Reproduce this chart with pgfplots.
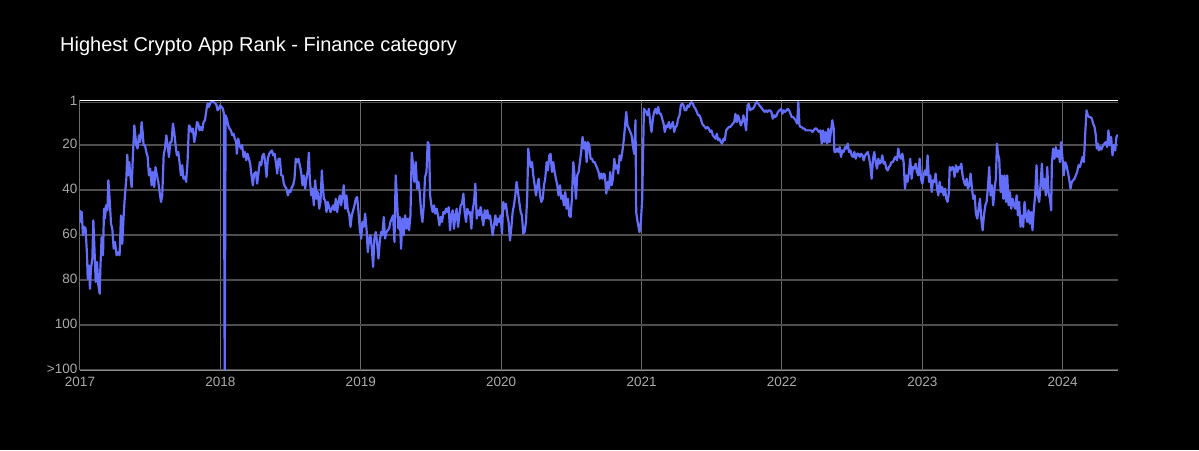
\documentclass[border=0pt]{standalone}
\usepackage{pgfplots}
\pgfplotsset{compat=1.18}
\usepackage{fontspec}
\setmainfont{Liberation Sans}
\definecolor{plotblue}{RGB}{99,110,250}
\definecolor{ticklab}{RGB}{170,170,170}
\definecolor{hgrid}{RGB}{78,78,78}
\definecolor{vgrid}{RGB}{105,105,105}
\definecolor{axln}{RGB}{140,140,140}
\begin{document}
\begin{tikzpicture}
\fill[black] (0,0) rectangle (1199pt,450pt);
\node[anchor=base west, text=white, font=\fontsize{20}{24}\selectfont, inner sep=0pt] at (60pt,398pt) {Highest Crypto App Rank - Finance category};
\begin{axis}[
  at={(80pt,80pt)}, anchor=south west,
  scale only axis, width=1038pt, height=270pt,
  xmin=2017, xmax=2024.394, ymin=0, ymax=120,
  y dir=reverse,
  axis line style={draw=none},
  major tick length=0pt,
  xtick={2017,2018,2019,2020,2021,2022,2023,2024},
  xticklabels={2017,2018,2019,2020,2021,2022,2023,2024},
  ytick={1,20,40,60,80,100,120},
  yticklabels={1,20,40,60,80,100,>100},
  tick label style={font=\fontsize{13.5}{16}\selectfont, text=ticklab, inner sep=0.5pt},
  xticklabel style={yshift=-6pt},
  yticklabel style={xshift=-2pt, yshift=1pt},
  xmajorgrids, ymajorgrids,
  x grid style={vgrid, line width=1pt},
  y grid style={hgrid, line width=1.2pt},
  clip=true,
]
\addplot[plotblue, line width=2.2pt, line join=round, mark=none] table {
2017.000 49.0
2017.007 54.2
2017.012 49.8
2017.021 60.1
2017.031 56.4
2017.040 57.2
2017.050 69.0
2017.055 79.4
2017.064 73.5
2017.071 83.9
2017.078 75.0
2017.088 70.5
2017.095 53.5
2017.102 64.6
2017.112 80.9
2017.121 72.0
2017.131 82.4
2017.140 86.1
2017.145 75.0
2017.154 60.9
2017.164 69.0
2017.171 48.3
2017.178 52.7
2017.185 46.8
2017.195 49.0
2017.202 35.7
2017.211 43.9
2017.221 55.0
2017.230 57.2
2017.240 66.1
2017.249 63.1
2017.261 69.0
2017.273 67.6
2017.282 69.0
2017.292 51.3
2017.301 63.9
2017.311 51.3
2017.320 42.4
2017.330 35.0
2017.337 24.3
2017.344 33.5
2017.351 27.6
2017.358 33.5
2017.368 38.7
2017.377 24.6
2017.387 11.3
2017.394 15.7
2017.401 20.1
2017.410 21.6
2017.420 15.7
2017.429 18.7
2017.439 9.8
2017.446 14.2
2017.453 20.1
2017.463 20.1
2017.472 23.1
2017.482 25.3
2017.491 33.5
2017.500 30.5
2017.510 37.9
2017.519 32.0
2017.529 38.7
2017.538 29.8
2017.548 33.5
2017.558 36.4
2017.567 40.9
2017.577 45.3
2017.586 42.4
2017.596 24.6
2017.605 21.6
2017.615 15.7
2017.624 20.1
2017.634 25.3
2017.643 18.7
2017.652 18.7
2017.662 10.5
2017.671 14.2
2017.681 20.1
2017.690 24.6
2017.700 23.1
2017.709 27.6
2017.719 33.5
2017.728 29.0
2017.737 35.0
2017.747 34.2
2017.756 36.4
2017.766 27.6
2017.776 11.3
2017.785 12.0
2017.795 14.2
2017.804 12.7
2017.814 18.7
2017.823 15.7
2017.833 9.8
2017.842 10.5
2017.852 13.5
2017.861 12.0
2017.871 13.5
2017.880 9.8
2017.890 9.0
2017.902 3.9
2017.909 1.6
2017.918 3.1
2017.928 1.2
2017.937 0.9
2017.947 0.9
2017.961 1.2
2017.973 2.4
2017.980 4.6
2017.989 3.9
2017.999 2.4
2018.008 3.1
2018.018 3.9
2018.025 6.1
2018.031 125
2018.037 6.8
2018.046 8.3
2018.056 11.3
2018.065 12.7
2018.075 13.5
2018.084 15.7
2018.094 15.0
2018.103 17.2
2018.113 18.7
2018.117 23.9
2018.127 17.2
2018.137 20.1
2018.146 21.6
2018.155 20.1
2018.165 25.3
2018.174 23.1
2018.184 26.8
2018.193 23.9
2018.203 26.1
2018.212 28.3
2018.222 33.5
2018.231 37.9
2018.241 32.7
2018.253 32.0
2018.262 37.2
2018.272 32.0
2018.281 27.6
2018.291 29.0
2018.300 24.6
2018.310 23.9
2018.319 27.6
2018.329 34.2
2018.338 26.1
2018.348 23.9
2018.357 23.1
2018.367 22.4
2018.376 24.6
2018.386 23.9
2018.395 27.6
2018.405 32.7
2018.414 26.1
2018.424 26.1
2018.433 33.5
2018.443 33.5
2018.452 37.2
2018.462 38.7
2018.471 39.4
2018.481 42.4
2018.490 40.1
2018.499 40.9
2018.509 38.7
2018.518 37.9
2018.528 35.0
2018.537 26.1
2018.547 27.6
2018.556 26.1
2018.566 29.0
2018.575 32.0
2018.585 37.9
2018.594 33.5
2018.604 39.4
2018.613 35.0
2018.623 31.3
2018.630 23.4
2018.637 35.0
2018.647 42.4
2018.656 39.4
2018.666 46.8
2018.675 35.7
2018.685 43.9
2018.694 40.9
2018.704 48.3
2018.713 45.3
2018.723 31.3
2018.727 36.4
2018.737 43.9
2018.746 44.6
2018.756 49.8
2018.765 45.3
2018.775 47.6
2018.784 49.8
2018.794 48.3
2018.803 46.8
2018.813 49.0
2018.822 43.9
2018.832 49.8
2018.841 45.3
2018.851 42.4
2018.860 46.8
2018.870 42.4
2018.879 37.9
2018.889 48.3
2018.898 42.4
2018.908 49.0
2018.917 50.5
2018.927 56.4
2018.936 51.3
2018.946 49.0
2018.955 46.8
2018.965 43.9
2018.974 43.1
2018.984 49.8
2018.993 57.2
2019.003 61.6
2019.012 54.2
2019.022 56.4
2019.031 50.5
2019.041 57.2
2019.050 67.6
2019.060 61.6
2019.069 60.1
2019.079 66.1
2019.088 74.2
2019.097 61.6
2019.107 58.7
2019.116 63.1
2019.126 70.5
2019.135 63.1
2019.145 58.7
2019.154 60.1
2019.164 52.0
2019.173 61.6
2019.183 58.7
2019.192 57.9
2019.202 57.2
2019.211 54.2
2019.221 52.7
2019.230 51.3
2019.240 63.1
2019.249 33.5
2019.259 45.3
2019.268 57.2
2019.278 52.0
2019.287 66.1
2019.297 52.7
2019.306 60.1
2019.316 51.3
2019.325 57.2
2019.335 52.7
2019.344 57.9
2019.354 51.3
2019.363 23.4
2019.373 29.0
2019.382 36.4
2019.392 27.6
2019.401 39.4
2019.411 36.4
2019.420 40.9
2019.430 49.8
2019.439 54.2
2019.449 46.8
2019.458 34.2
2019.468 32.0
2019.477 18.7
2019.487 20.1
2019.494 42.4
2019.503 46.8
2019.512 49.8
2019.522 46.8
2019.531 50.5
2019.541 48.3
2019.550 51.3
2019.560 55.7
2019.569 52.0
2019.579 54.2
2019.588 49.8
2019.598 50.5
2019.607 48.3
2019.617 49.8
2019.626 47.6
2019.636 57.9
2019.645 51.3
2019.655 49.0
2019.664 57.2
2019.674 51.3
2019.683 48.3
2019.693 56.4
2019.702 51.3
2019.712 46.8
2019.721 46.1
2019.731 41.6
2019.740 49.8
2019.750 54.2
2019.759 48.3
2019.769 50.5
2019.778 49.8
2019.788 57.2
2019.797 49.0
2019.807 45.3
2019.816 37.2
2019.826 52.7
2019.835 49.0
2019.845 51.3
2019.854 47.6
2019.864 52.0
2019.873 55.7
2019.883 49.0
2019.892 52.7
2019.902 49.0
2019.911 52.7
2019.921 51.3
2019.930 55.7
2019.940 60.1
2019.949 55.7
2019.959 51.3
2019.968 55.7
2019.978 52.7
2019.987 54.2
2019.996 51.3
2020.006 59.4
2020.015 45.3
2020.025 48.3
2020.034 46.1
2020.044 51.3
2020.053 54.2
2020.063 62.4
2020.072 57.2
2020.082 49.8
2020.091 46.8
2020.101 42.4
2020.110 36.4
2020.120 40.9
2020.129 45.3
2020.139 49.8
2020.148 51.3
2020.158 59.4
2020.167 58.7
2020.177 54.2
2020.186 42.4
2020.193 21.6
2020.201 26.1
2020.210 29.8
2020.220 27.6
2020.229 33.5
2020.239 37.9
2020.248 42.4
2020.258 37.9
2020.267 35.0
2020.277 42.4
2020.286 45.3
2020.296 43.9
2020.305 37.9
2020.314 35.0
2020.324 27.6
2020.333 31.3
2020.343 24.6
2020.352 23.9
2020.362 32.0
2020.371 27.6
2020.381 32.0
2020.390 35.0
2020.400 37.9
2020.409 42.4
2020.419 37.9
2020.428 43.9
2020.438 42.4
2020.447 46.8
2020.457 40.9
2020.466 48.3
2020.476 43.9
2020.485 51.3
2020.495 52.0
2020.504 43.9
2020.514 27.6
2020.523 33.5
2020.533 43.9
2020.542 33.5
2020.552 32.0
2020.561 27.6
2020.571 22.4
2020.580 16.4
2020.590 21.6
2020.599 18.7
2020.609 27.6
2020.618 18.7
2020.628 20.1
2020.637 26.1
2020.647 26.1
2020.656 27.6
2020.666 27.6
2020.675 29.0
2020.685 30.5
2020.694 32.0
2020.703 35.0
2020.713 32.7
2020.722 35.0
2020.732 32.7
2020.739 33.5
2020.749 41.6
2020.758 36.4
2020.768 39.4
2020.777 32.0
2020.787 37.9
2020.796 35.0
2020.806 26.1
2020.815 30.5
2020.825 29.0
2020.834 32.7
2020.844 24.6
2020.853 26.8
2020.863 23.1
2020.872 18.7
2020.881 12.7
2020.891 5.3
2020.900 11.3
2020.910 12.7
2020.920 14.2
2020.929 15.7
2020.938 20.1
2020.948 23.9
2020.957 9.0
2020.962 49.8
2020.972 54.2
2020.981 57.2
2020.986 58.7
2020.995 54.2
2021.005 43.9
2021.012 20.1
2021.017 3.9
2021.024 4.6
2021.033 5.3
2021.043 6.8
2021.052 3.9
2021.062 9.8
2021.071 14.2
2021.081 8.3
2021.090 5.3
2021.100 3.9
2021.109 6.1
2021.119 3.1
2021.128 6.1
2021.138 6.1
2021.147 8.3
2021.157 10.5
2021.166 14.2
2021.176 11.3
2021.185 12.0
2021.195 9.8
2021.204 12.7
2021.214 11.3
2021.223 9.8
2021.233 14.2
2021.242 12.0
2021.252 11.3
2021.261 8.3
2021.271 6.8
2021.280 2.4
2021.290 1.6
2021.299 2.4
2021.309 4.6
2021.318 4.6
2021.328 2.4
2021.337 3.1
2021.347 1.6
2021.356 0.9
2021.365 1.6
2021.375 3.1
2021.384 3.9
2021.394 5.3
2021.403 6.8
2021.413 6.8
2021.422 8.3
2021.432 10.5
2021.441 11.3
2021.451 12.0
2021.460 12.7
2021.470 12.0
2021.479 12.7
2021.489 14.2
2021.498 13.5
2021.508 15.7
2021.517 16.4
2021.527 17.2
2021.536 15.0
2021.546 17.9
2021.555 17.2
2021.565 18.7
2021.574 19.4
2021.584 17.2
2021.593 17.9
2021.603 13.5
2021.612 12.7
2021.622 12.0
2021.631 12.0
2021.641 11.3
2021.650 10.5
2021.660 9.8
2021.669 6.1
2021.679 9.8
2021.688 6.8
2021.698 9.0
2021.707 11.3
2021.717 9.8
2021.726 6.8
2021.736 9.8
2021.745 13.5
2021.755 2.4
2021.764 1.6
2021.774 4.6
2021.783 3.9
2021.793 3.9
2021.802 3.1
2021.812 1.6
2021.821 0.9
2021.831 1.6
2021.840 2.4
2021.850 3.1
2021.859 3.9
2021.868 4.6
2021.878 5.3
2021.887 4.6
2021.897 5.3
2021.906 4.6
2021.916 4.6
2021.925 5.3
2021.935 8.3
2021.944 6.8
2021.953 7.6
2021.962 6.8
2021.972 5.3
2021.981 4.6
2021.985 4.6
2021.994 3.9
2022.004 6.1
2022.013 4.6
2022.023 5.3
2022.032 4.6
2022.042 3.9
2022.051 4.6
2022.061 6.1
2022.070 7.6
2022.080 7.6
2022.089 8.3
2022.098 9.0
2022.108 10.5
2022.117 0.9
2022.125 11.3
2022.132 12.0
2022.141 12.0
2022.151 12.7
2022.160 12.7
2022.170 13.5
2022.179 13.5
2022.189 13.5
2022.198 13.5
2022.208 13.5
2022.217 14.2
2022.227 13.5
2022.236 12.7
2022.246 12.7
2022.255 13.5
2022.265 14.2
2022.274 13.5
2022.284 19.4
2022.293 13.5
2022.302 18.7
2022.312 14.2
2022.322 19.4
2022.331 12.7
2022.340 18.7
2022.350 13.5
2022.359 9.0
2022.369 12.7
2022.374 23.1
2022.383 23.1
2022.393 21.6
2022.402 23.1
2022.412 20.9
2022.421 25.3
2022.431 22.4
2022.440 23.1
2022.450 20.9
2022.459 21.6
2022.469 19.4
2022.478 23.1
2022.488 22.4
2022.497 24.6
2022.507 25.3
2022.516 23.1
2022.526 26.1
2022.535 23.9
2022.545 23.9
2022.554 25.3
2022.564 23.9
2022.573 24.6
2022.583 26.8
2022.592 24.6
2022.602 23.9
2022.611 23.1
2022.620 25.3
2022.630 29.0
2022.639 35.0
2022.649 26.1
2022.658 23.1
2022.668 27.6
2022.677 30.5
2022.687 26.1
2022.696 28.3
2022.706 27.6
2022.715 24.6
2022.725 28.3
2022.734 27.6
2022.744 30.5
2022.753 31.3
2022.763 29.8
2022.772 29.0
2022.781 27.6
2022.791 27.6
2022.800 26.1
2022.810 25.3
2022.820 26.8
2022.829 21.6
2022.839 25.3
2022.848 26.1
2022.858 23.9
2022.867 27.6
2022.877 39.4
2022.886 33.5
2022.895 36.4
2022.905 32.0
2022.914 26.1
2022.924 35.0
2022.933 29.8
2022.943 30.5
2022.953 28.3
2022.962 32.0
2022.972 33.5
2022.981 26.1
2022.991 35.0
2023.000 37.2
2023.010 33.5
2023.019 31.3
2023.029 33.5
2023.038 24.6
2023.048 36.4
2023.057 33.5
2023.067 40.9
2023.076 35.7
2023.086 36.4
2023.095 32.7
2023.105 39.4
2023.114 42.4
2023.124 36.4
2023.133 40.9
2023.142 38.7
2023.152 42.4
2023.162 39.4
2023.171 43.9
2023.180 45.3
2023.190 40.9
2023.195 29.8
2023.204 31.3
2023.214 29.8
2023.223 30.5
2023.230 34.2
2023.240 29.0
2023.249 32.0
2023.259 29.8
2023.268 30.5
2023.278 28.3
2023.287 33.5
2023.297 36.4
2023.306 37.9
2023.316 35.0
2023.325 39.4
2023.335 37.9
2023.344 32.7
2023.354 39.4
2023.363 43.9
2023.373 42.4
2023.382 50.5
2023.392 52.7
2023.401 48.3
2023.411 43.9
2023.420 52.7
2023.430 57.9
2023.439 51.3
2023.449 46.8
2023.458 45.3
2023.467 39.4
2023.477 29.8
2023.486 42.4
2023.496 37.9
2023.505 46.8
2023.515 39.4
2023.524 35.0
2023.532 19.4
2023.539 23.9
2023.548 26.1
2023.558 40.9
2023.567 33.5
2023.577 43.9
2023.586 33.5
2023.596 45.3
2023.605 33.5
2023.615 46.8
2023.624 40.9
2023.634 48.3
2023.643 43.9
2023.653 46.8
2023.662 48.3
2023.672 42.4
2023.681 51.3
2023.690 45.3
2023.700 56.4
2023.709 51.3
2023.719 56.4
2023.728 45.3
2023.738 51.3
2023.747 54.2
2023.757 49.0
2023.766 55.0
2023.776 49.8
2023.785 57.9
2023.795 48.3
2023.804 42.4
2023.814 29.0
2023.823 42.4
2023.833 45.3
2023.842 37.9
2023.852 28.3
2023.861 39.4
2023.871 35.0
2023.880 42.4
2023.890 29.8
2023.899 40.9
2023.909 43.9
2023.918 49.0
2023.923 28.3
2023.932 21.6
2023.942 26.1
2023.951 20.9
2023.961 25.3
2023.970 22.4
2023.980 27.6
2023.989 18.7
2023.999 26.1
2024.008 33.5
2024.018 27.6
2024.027 29.0
2024.037 32.0
2024.046 35.0
2024.056 39.4
2024.065 36.4
2024.075 35.7
2024.084 35.0
2024.094 33.5
2024.103 32.0
2024.113 29.0
2024.122 29.8
2024.132 27.6
2024.141 25.3
2024.151 27.6
2024.160 15.7
2024.170 4.6
2024.179 6.8
2024.189 7.6
2024.198 7.6
2024.208 8.3
2024.217 10.5
2024.227 12.0
2024.236 15.7
2024.243 21.6
2024.250 19.4
2024.258 22.4
2024.266 20.9
2024.276 22.0
2024.288 20.1
2024.298 19.4
2024.307 18.7
2024.317 20.9
2024.326 13.5
2024.336 20.1
2024.345 16.4
2024.355 24.6
2024.364 20.1
2024.374 22.4
2024.383 16.4
2024.393 15.4
};
\draw[white, line width=2pt] (axis cs:2017,0.2) -- (axis cs:2024.394,0.2);
\draw[axln, line width=1pt] (axis description cs:0,1) -- (axis description cs:0,0) -- (axis description cs:1,0);
\end{axis}
\end{tikzpicture}
\end{document}
